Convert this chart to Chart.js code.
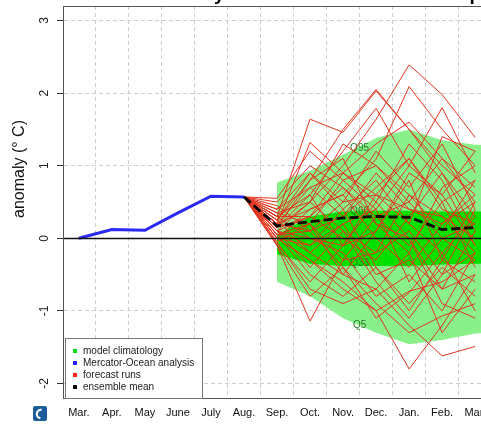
<!DOCTYPE html>
<html><head><meta charset="utf-8">
<script src="https://cdn.jsdelivr.net/npm/chart.js@4/dist/chart.umd.min.js"></script>
<style>
html,body{margin:0;padding:0;overflow:hidden;background:#fff;width:481px;height:424px}
#wrap{position:absolute;left:0;top:0;width:510px;height:424px}
</style>
</head><body><div id="wrap"><canvas id="c" width="510" height="424"></canvas></div>
<script>
// ---------- data ----------
const months = ["Mar.","Apr.","May","June","July","Aug.","Sep.","Oct.","Nov.","Dec.","Jan.","Feb.","Mar."];
const yTickValues = [-2,-1,0,1,2,3];
const legendLabels = ["model climatology","Mercator-Ocean analysis","forecast runs","ensemble mean"];
const quantileLabels = ["Q95","Q66","Q33","Q5"];
const titleText = "NINO3.4 SST anomaly - Mercator Ocean forecast plumes";
const yTitle = "anomaly (° C)";
// analysis Mar..Aug
const analysis = [0.00,0.12,0.11,0.35,0.58,0.57];
// climatology quantiles Sep..Apr (last value only visible at the right edge)
const q95 = [0.77,0.93,1.15,1.38,1.50,1.35,1.29,1.28];
const q66 = [0.05,0.30,0.37,0.38,0.38,0.37,0.37,0.37];
const q33 = [-0.22,-0.35,-0.38,-0.38,-0.38,-0.36,-0.35,-0.35];
const q5  = [-0.60,-0.80,-1.10,-1.30,-1.46,-1.40,-1.31,-1.29];
// ensemble mean Aug..Mar
const ensembleMean = [0.57,0.17,0.23,0.28,0.30,0.29,0.12,0.15];
// forecast runs Sep..Mar (all start from the Aug analysis value)
const runs = [
 [0.30, 1.64, 1.46, 2.03, 1.50, 1.00, 0.60],
 [0.20, 1.32, 0.90, 0.60, 1.10, 0.50, 0.80],
 [0.10, 0.50, 1.00, 1.64, 2.39, 1.98, 1.39],
 [0.25, 0.80, 1.50, 2.05, 1.50, 0.90, 0.30],
 [0.00, 0.40, 0.60, 1.09, 2.09, 1.50, 1.00],
 [0.15, 0.60, 1.20, 1.79, 1.00, 1.80, 0.90],
 [-0.10,-1.14,-0.30,-0.20, 0.10,-0.50,-0.20],
 [0.00,-0.30,-0.60,-1.00,-1.80,-1.20,-0.50],
 [0.10,-0.20,-0.50,-0.70,-1.20,-1.62,-1.49],
 [0.05, 0.10,-0.40,-0.90,-1.30,-1.07,-0.90],
 [0.40, 0.90, 0.50, 1.20, 0.70, 1.30, 0.40],
 [0.35, 0.20, 0.80, 0.40, 1.00, 0.60, 1.20],
 [0.50, 1.00, 0.70, 0.30, 0.50, 1.10, 0.70],
 [0.20, 0.70, 0.30, 0.90, 0.40, 0.20, 0.50],
 [0.10, 0.30, 0.90, 0.50, 1.30, 0.80,-0.10],
 [0.00,-0.10, 0.40, 0.80, 0.20,-0.20, 0.30],
 [0.15, 0.50, 0.10,-0.20, 0.60, 0.30, 0.00],
 [-0.05,0.20,-0.30, 0.30,-0.10, 0.50,-0.40],
 [0.25,-0.20, 0.20,-0.50,-0.30,-0.70, 0.10],
 [0.30, 0.60,-0.10, 0.10, 0.80,-0.30,-0.60],
 [0.05,-0.50,-0.80,-0.40,-0.90,-0.40,-0.80],
 [0.10, 0.00,-0.20,-0.80,-0.50,-1.00,-0.20],
 [0.20, 0.40, 0.60, 0.00,-0.40, 0.20, 0.60],
 [-0.08,-0.60,-0.10,0.50, 0.00,-0.90,-1.10],
 [0.45, 0.10, 0.30, 0.70, 1.10, 0.40, 0.20],
 [0.15, 0.80, 1.10, 0.20,-0.20, 0.70, 1.00],
 [0.00,-0.30,-0.70,-1.00,-0.73,-0.60,-0.30],
 [0.30, 0.30, 0.00,-0.30, 0.30, 0.90, 0.10],
 [0.10,-0.40, 0.10,-0.60,-1.10,-0.50, 0.40],
 [0.55, 1.20, 0.80, 1.00, 0.50, 0.00,-0.30],
 [0.20, 0.10, 0.50, 0.60, 0.20, 1.40, 1.20],
 [-0.05,-0.70,-0.90,-0.70,-0.20,-1.30,-0.70],
 [0.35, 0.50, 1.30, 1.00, 0.60, 0.10, 0.80],
 [0.05, 0.20,-0.50, 0.10, 0.90, 0.60,-0.10],
 [0.25, 0.90, 0.40,-0.40,-1.00,-0.30, 0.50],
 [0.10,-0.10, 0.20, 0.40,-0.60, 0.00, 0.20],
 [0.40, 0.70, 0.90, 1.30, 1.60, 1.10, 0.50],
 [-0.10,-0.80,-0.40,-1.10,-0.75,-0.20,-1.00],
 [0.15, 0.30, 0.70, 0.20, 0.00,-0.70,-0.50],
 [0.30, 0.00,-0.10, 0.60, 0.40, 0.30,-0.20]
];

// ---------- styles ----------
const FONT = "'Liberation Sans', Arial, Helvetica, sans-serif";
const LIGHT_GREEN = '#8af08a';
const DARK_GREEN = '#00e000';
const RED = '#e2361f';
const BLUE = '#2a2af2';
const Q_TEXT = '#237a23';
const legendColors = ['#00dd00','#2222ff','#ff2020','#000000'];

const pts = (start, arr) => arr.map((v, k) => ({x: start + k, y: v}));
const AUG = 5, SEP = 6;

const datasets = [];
datasets.push({label:'ensemble mean', data: pts(AUG, ensembleMean), borderColor:'#000', borderWidth:2.8, borderDash:[9,4], order:0});
datasets.push({label:'Mercator-Ocean analysis', data: pts(0, analysis), borderColor: BLUE, borderWidth:3, order:1});
runs.forEach((r, i) => datasets.push({label:'forecast run ' + (i+1), data: pts(AUG, [analysis[AUG]].concat(r)), borderColor: RED, borderWidth:1, order:2}));
const IDX_Q66 = datasets.length;
datasets.push({label:'Q66', data: pts(SEP, q66), borderWidth:0, borderColor:'rgba(0,0,0,0)', backgroundColor: DARK_GREEN, fill:'+1', order:3});
datasets.push({label:'Q33', data: pts(SEP, q33), borderWidth:0, borderColor:'rgba(0,0,0,0)', fill:false, order:3});
datasets.push({label:'Q95', data: pts(SEP, q95), borderWidth:0, borderColor:'rgba(0,0,0,0)', backgroundColor: LIGHT_GREEN, fill:'+1', order:4});
datasets.push({label:'Q5', data: pts(SEP, q5), borderWidth:0, borderColor:'rgba(0,0,0,0)', fill:false, order:4});

function interp(arr, start, x) {
  const k = Math.floor(x - start), f = x - start - k;
  return arr[k] + (arr[k+1] - arr[k]) * f;
}

const deco = {
  id: 'deco',
  afterDatasetDraw(chart, args) {
    if (args.index !== IDX_Q66) return;
    const ctx = chart.ctx, xs = chart.scales.x, ys = chart.scales.y;
    const xv = 8.5;
    const vals = [interp(q95,SEP,xv), interp(q66,SEP,xv), interp(q33,SEP,xv), interp(q5,SEP,xv)];
    ctx.save();
    ctx.font = '10px ' + FONT; ctx.fillStyle = Q_TEXT; ctx.textAlign = 'center'; ctx.textBaseline = 'middle';
    quantileLabels.forEach((t, i) => ctx.fillText(t, xs.getPixelForValue(xv), ys.getPixelForValue(vals[i]) + (i===0?2:(i===2?-3:0))));
    ctx.restore();
  },
  afterDatasetsDraw(chart) {
    const ctx = chart.ctx, a = chart.chartArea, ys = chart.scales.y;
    const y0 = Math.round(ys.getPixelForValue(0)) + 0.5;
    ctx.save();
    ctx.strokeStyle = '#111'; ctx.lineWidth = 1.3;
    ctx.beginPath(); ctx.moveTo(a.left, y0); ctx.lineTo(a.right, y0); ctx.stroke();
    ctx.restore();
  },
  afterDraw(chart) {
    const ctx = chart.ctx, a = chart.chartArea, ys = chart.scales.y;
    ctx.save();
    // plot box
    ctx.strokeStyle = '#555'; ctx.lineWidth = 1;
    ctx.strokeRect(Math.round(a.left)+0.5, Math.round(a.top)+0.5, Math.round(a.right - a.left), Math.round(a.bottom - a.top));
    // rotated y tick labels
    ctx.fillStyle = '#222'; ctx.font = '12px ' + FONT; ctx.textAlign = 'center'; ctx.textBaseline = 'middle';
    yTickValues.forEach(v => {
      ctx.save(); ctx.translate(45, ys.getPixelForValue(v)); ctx.rotate(-Math.PI/2);
      ctx.fillText(String(v), 0, 0); ctx.restore();
    });
    // y title
    ctx.save(); ctx.font = '16px ' + FONT; ctx.fillStyle = '#111';
    ctx.translate(20, 169); ctx.rotate(-Math.PI/2); ctx.fillText(yTitle, 0, 0); ctx.restore();
    // legend
    const lx = 65.5, ly = 338.5, lw = 137, lh = Math.round(a.bottom) - 338;
    ctx.fillStyle = '#fff'; ctx.fillRect(lx, ly, lw, lh);
    ctx.strokeStyle = '#777'; ctx.strokeRect(lx, ly, lw, lh);
    ctx.font = '10px ' + FONT; ctx.textAlign = 'left';
    legendLabels.forEach((t, i) => {
      const yy = 351 + i * 12;
      ctx.fillStyle = legendColors[i]; ctx.fillRect(73, yy - 2, 4, 4);
      ctx.fillStyle = '#222'; ctx.fillText(t, 83, yy);
    });
    // logo
    ctx.fillStyle = '#1d5c9c';
    ctx.beginPath(); ctx.roundRect ? ctx.roundRect(33, 406, 14, 15, 2) : ctx.rect(33,406,14,15); ctx.fill();
    ctx.strokeStyle = '#fff'; ctx.lineWidth = 2.2;
    ctx.beginPath(); ctx.arc(41, 414, 4.2, Math.PI*0.55, Math.PI*1.55); ctx.stroke();
    // title (mostly above the visible area)
    ctx.font = 'bold 19px ' + FONT; ctx.fillStyle = '#000'; ctx.textAlign = 'left'; ctx.textBaseline = 'alphabetic';
    const pre = ctx.measureText("NINO3.4 SST anomal").width;
    ctx.fillText(titleText, 214 - pre, 0);
    ctx.restore();
  }
};

Chart.defaults.font.family = FONT;
new Chart(document.getElementById('c'), {
  type: 'line',
  data: { datasets },
  options: {
    responsive: false, animation: false, devicePixelRatio: 1,
    layout: { padding: { top: 6, right: 19, left: 0, bottom: 0 } },
    elements: { point: { radius: 0 }, line: { tension: 0 } },
    plugins: { legend: { display: false }, tooltip: { enabled: false }, title: { display: false } },
    scales: {
      x: {
        type: 'linear', min: -0.48, max: 12.48,
        afterBuildTicks: s => { s.ticks = months.map((m, i) => ({ value: i })); },
        afterFit: s => { s.height = 26; s.paddingLeft = 0; s.paddingRight = 0; },
        ticks: { autoSkip: false, maxRotation: 0, minRotation: 0, padding: 8, color: '#111',
                 font: { size: 11 }, callback: v => months[v] },
        grid: { offset: true, drawTicks: false, color: '#cdcdcd', lineWidth: 1 },
        border: { display: true, color: '#444', width: 1, dash: [4, 3] }
      },
      y: {
        type: 'linear', min: -2.2, max: 3.2,
        afterBuildTicks: s => { s.ticks = yTickValues.map(v => ({ value: v })); },
        afterFit: s => { s.width = 63; s.paddingTop = 0; s.paddingBottom = 0; },
        ticks: { display: false },
        grid: { drawTicks: true, tickLength: 6, tickColor: '#333', tickWidth: 1, tickBorderDash: [], color: '#cdcdcd', lineWidth: 1 },
        border: { display: true, color: '#444', width: 1, dash: [4, 3] }
      }
    }
  },
  plugins: [deco]
});
</script>
</body></html>
